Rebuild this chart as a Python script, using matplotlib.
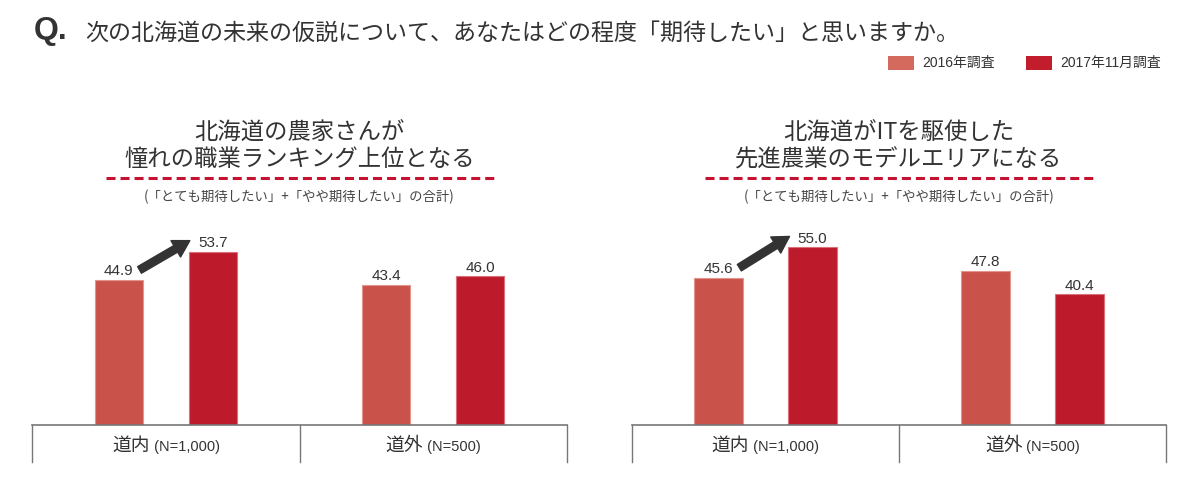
import matplotlib
matplotlib.use('Agg')
import matplotlib.pyplot as plt
from matplotlib.lines import Line2D
from matplotlib.patches import Rectangle
from matplotlib.transforms import ScaledTranslation
import numpy as np

# ---------------- data ----------------
title_q = "Q."
title_text = "次の北海道の未来の仮説について、あなたはどの程度「期待したい」と思いますか。"
series_names = ["2016年調査", "2017年11月調査"]
categories = ["道内", "道外"]
category_n = ["(N=1,000)", "(N=500)"]
panel_titles = [["北海道の農家さんが", "憧れの職業ランキング上位となる"],
                ["北海道がITを駆使した", "先進農業のモデルエリアになる"]]
panel_note = "(「とても期待したい」+「やや期待したい」の合計)"
left_2016 = [44.9, 43.4]
left_2017 = [53.7, 46.0]
right_2016 = [45.6, 47.8]
right_2017 = [55.0, 40.4]

# ---------------- style ----------------
CJK = ['Noto Sans CJK JP', 'DejaVu Sans']
NUM = ['Liberation Sans', 'Noto Sans CJK JP', 'DejaVu Sans']
plt.rcParams['font.family'] = CJK
TXT = '#333333'
C16, C17 = '#C9534A', '#BD1B2C'
E16, E17 = '#E3948C', '#D9707A'
L16, L17 = '#D46A5E', '#C21D2D'
DASH = '#C4122F'
GRID = '#777777'

W, H = 1200, 483
fig = plt.figure(figsize=(12, 4.83), dpi=100)
fig.patch.set_facecolor('white')


def fx(px):
    return px / W


def fy(py):
    return 1 - py / H


BASE = 424.5          # baseline pixel row
AX_H = 193.2          # pixels for 0..60
panels = [
    dict(x0=32, x1=567, v16=left_2016, v17=left_2017, title=panel_titles[0]),
    dict(x0=632, x1=1166, v16=right_2016, v17=right_2017, title=panel_titles[1]),
]

bw = 0.18
off = 0.176
label_items = []

for p in panels:
    ax = fig.add_axes([fx(p['x0']), fy(BASE), (p['x1'] - p['x0']) / W, AX_H / H])
    ax.set_xlim(-0.5, 1.5)
    ax.set_ylim(0, 60)
    for s in ['top', 'left', 'right']:
        ax.spines[s].set_visible(False)
    ax.spines['bottom'].set_color(GRID)
    ax.spines['bottom'].set_linewidth(1.2)
    ax.set_xticks([])
    ax.set_yticks([])
    ax.patch.set_alpha(0)

    idx = np.arange(len(categories))
    ax.bar(idx - off, p['v16'], width=bw, color=C16, edgecolor=E16, linewidth=0.8, zorder=2)
    ax.bar(idx + off, p['v17'], width=bw, color=C17, edgecolor=E17, linewidth=0.8, zorder=2)

    for i in idx:
        for xx, v in ((i - off, p['v16'][i]), (i + off, p['v17'][i])):
            ax.annotate(f"{v:.1f}", (xx, v), xytext=(0, 1.2), textcoords='offset points',
                        ha='center', va='bottom', fontsize=11, color=TXT, family=NUM)

    # arrow between the 道内 bars
    tail = (0 - off + bw / 2 - 0.012, p['v16'][0] + 3.1)
    head = (0 + off - bw / 2 + 0.004, p['v17'][0] + 3.4)
    ax.annotate('', xy=head, xytext=tail,
                arrowprops=dict(arrowstyle='simple,head_length=0.9,head_width=1.05,tail_width=0.42',
                                color='#333333', shrinkA=0, shrinkB=0, mutation_scale=13))

    # vertical separators below the baseline
    trans = ax.get_xaxis_transform()
    ybot = -(462 - BASE) / AX_H
    for xv in (-0.5, 0.5, 1.5):
        ax.plot([xv, xv], [0, ybot], transform=trans, color=GRID, lw=1.0, clip_on=False)

    # category labels
    ylab = -(451 - BASE) / AX_H
    for i in idx:
        t1 = ax.text(i, ylab, categories[i], transform=trans, ha='right', va='baseline',
                     fontsize=13.5, color=TXT, family=CJK)
        t2 = ax.text(i, ylab, " " + category_n[i], transform=trans, ha='left', va='baseline',
                     fontsize=10.5, color=TXT, family=NUM)
        label_items.append((ax, t1, t2))

    # panel title
    cx = (p['x0'] + p['x1']) / 2
    fig.text(fx(cx), fy(132), p['title'][0], ha='center', va='center', fontsize=16.8,
             color=TXT, family=CJK)
    fig.text(fx(cx), fy(160), p['title'][1], ha='center', va='center', fontsize=16.8,
             color=TXT, family=CJK)
    lw = 2.2
    fig.add_artist(Line2D([fx(cx - 194), fx(cx + 194)], [fy(177.7), fy(177.7)],
                          transform=fig.transFigure, color=DASH, lw=lw,
                          linestyle=(0, (6.5 / lw, 3.6 / lw)), solid_capstyle='butt',
                          dash_capstyle='butt'))
    fig.text(fx(cx), fy(197), panel_note, ha='center', va='center', fontsize=9.6,
             color='#444444', family=CJK)

# main title
fig.text(fx(34), fy(31), title_q, ha='left', va='center', fontsize=23, color=TXT,
         family=NUM, fontweight='bold')
fig.text(fx(85), fy(33), title_text, ha='left', va='center', fontsize=16.6, color=TXT,
         family=CJK)

# legend
for (x_p, col, name) in ((888, L16, series_names[0]), (1026, L17, series_names[1])):
    fig.add_artist(Rectangle((fx(x_p), fy(70)), 26 / W, 14.3 / H, transform=fig.transFigure,
                             facecolor=col, edgecolor='none'))
    fig.text(fx(x_p + 34), fy(63), name, ha='left', va='center', fontsize=10, color=TXT,
             family=NUM)

# center composite category labels
fig.canvas.draw()
r = fig.canvas.get_renderer()
for ax, t1, t2 in label_items:
    w1 = t1.get_window_extent(r).width
    w2 = t2.get_window_extent(r).width
    dx = -(w2 - w1) / 2 / fig.dpi
    for t in (t1, t2):
        t.set_transform(ax.get_xaxis_transform() + ScaledTranslation(dx, 0, fig.dpi_scale_trans))

fig.savefig('out.png', dpi=100, facecolor='white')
